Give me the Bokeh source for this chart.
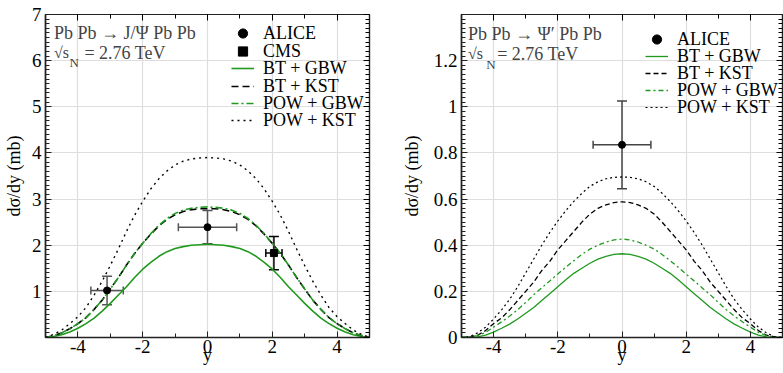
from bokeh.plotting import figure
from bokeh.layouts import row
from bokeh.models import (Range1d, LinearAxis, SingleIntervalTicker, CustomJSTickFormatter,
                          Legend, LegendItem, Label, Whisker, TeeHead, ColumnDataSource)
from bokeh.embed import file_html
from bokeh.resources import INLINE

# ---------------- data ----------------
rap = [-5.0, -4.75, -4.5, -4.25, -4.0, -3.75, -3.5, -3.25, -3.0, -2.75, -2.5, -2.25, -2.0,
       -1.75, -1.5, -1.25, -1.0, -0.75, -0.5, -0.25, 0.0, 0.25, 0.5, 0.75, 1.0, 1.25, 1.5,
       1.75, 2.0, 2.25, 2.5, 2.75, 3.0, 3.25, 3.5, 3.75, 4.0, 4.25, 4.5, 4.75, 5.0]

# J/Psi panel (mb)
jpsi_bt_gbw = [0, 0.02, 0.06, 0.12, 0.2, 0.3, 0.42, 0.57, 0.74, 0.92, 1.1, 1.3, 1.48, 1.63, 1.76,
               1.86, 1.93, 1.97, 2.0, 2.01, 2.02, 2.01, 2.0, 1.97, 1.93, 1.86, 1.76, 1.63, 1.48,
               1.3, 1.1, 0.92, 0.74, 0.57, 0.42, 0.3, 0.2, 0.12, 0.06, 0.02, 0]
jpsi_bt_kst = [0, 0.04, 0.1, 0.19, 0.3, 0.43, 0.61, 0.81, 1.05, 1.3, 1.57, 1.82, 2.04, 2.24, 2.42,
               2.56, 2.66, 2.73, 2.77, 2.79, 2.79, 2.79, 2.77, 2.73, 2.66, 2.56, 2.42, 2.24, 2.04,
               1.82, 1.57, 1.3, 1.05, 0.81, 0.61, 0.43, 0.3, 0.19, 0.1, 0.04, 0]
jpsi_pow_gbw = [0, 0.04, 0.1, 0.19, 0.3, 0.43, 0.61, 0.81, 1.05, 1.3, 1.57, 1.82, 2.04, 2.25, 2.43,
                2.58, 2.69, 2.76, 2.8, 2.82, 2.83, 2.82, 2.8, 2.76, 2.69, 2.58, 2.43, 2.25, 2.04,
                1.82, 1.57, 1.3, 1.05, 0.81, 0.61, 0.43, 0.3, 0.19, 0.1, 0.04, 0]
jpsi_pow_kst = [0, 0.07, 0.16, 0.3, 0.45, 0.65, 0.92, 1.22, 1.56, 1.92, 2.3, 2.65, 2.95, 3.22, 3.44,
                3.61, 3.74, 3.82, 3.87, 3.89, 3.9, 3.89, 3.87, 3.82, 3.74, 3.61, 3.44, 3.22, 2.95,
                2.65, 2.3, 1.92, 1.56, 1.22, 0.92, 0.65, 0.45, 0.3, 0.16, 0.07, 0]

jpsi_alice_y = [-3.1, 0.0]
jpsi_alice_val = [1.02, 2.39]
jpsi_alice_yerr = [0.5, 0.9]
jpsi_alice_err = [0.31, 0.36]
jpsi_cms_y = [2.05]
jpsi_cms_val = [1.83]
jpsi_cms_yerr = [0.25]
jpsi_cms_err = [0.36]

# Psi(2S) panel (mb)
psi_bt_gbw = [0, 0, 0.003, 0.01, 0.023, 0.04, 0.058, 0.08, 0.105, 0.13, 0.16, 0.19, 0.22, 0.25,
              0.278, 0.3, 0.322, 0.34, 0.352, 0.36, 0.363, 0.36, 0.352, 0.34, 0.322, 0.3, 0.278,
              0.25, 0.22, 0.19, 0.16, 0.13, 0.105, 0.08, 0.058, 0.04, 0.023, 0.01, 0.003, 0, 0]
psi_bt_kst = [0, 0.003, 0.01, 0.03, 0.06, 0.085, 0.12, 0.16, 0.2, 0.24, 0.29, 0.33, 0.38, 0.42,
              0.46, 0.5, 0.535, 0.56, 0.575, 0.585, 0.588, 0.585, 0.575, 0.56, 0.535, 0.5, 0.46,
              0.42, 0.38, 0.33, 0.29, 0.24, 0.2, 0.16, 0.12, 0.085, 0.06, 0.03, 0.01, 0.003, 0]
psi_pow_gbw = [0, 0.002, 0.008, 0.022, 0.045, 0.068, 0.093, 0.12, 0.152, 0.185, 0.215, 0.245,
               0.275, 0.305, 0.333, 0.36, 0.383, 0.4, 0.414, 0.423, 0.427, 0.423, 0.414, 0.4,
               0.383, 0.36, 0.333, 0.305, 0.275, 0.245, 0.215, 0.185, 0.152, 0.12, 0.093, 0.068,
               0.045, 0.022, 0.008, 0.002, 0]
psi_pow_kst = [0, 0.004, 0.02, 0.045, 0.08, 0.12, 0.165, 0.22, 0.28, 0.34, 0.40, 0.455, 0.505,
               0.55, 0.59, 0.625, 0.655, 0.675, 0.688, 0.694, 0.696, 0.694, 0.688, 0.675, 0.655,
               0.625, 0.59, 0.55, 0.505, 0.455, 0.40, 0.34, 0.28, 0.22, 0.165, 0.12, 0.08, 0.045,
               0.02, 0.004, 0]

psi_alice_y = [0.0]
psi_alice_val = [0.835]
psi_alice_yerr = [0.9]
psi_alice_err = [0.19]

legend_labels = ["ALICE", "CMS", "BT + GBW", "BT + KST", "POW + GBW", "POW + KST"]

FONT = "Liberation Serif"
GREEN = "#1f9a1f"


def style_fig(p, y_interval, y_minor, yfmt):
    p.outline_line_color = "black"
    p.outline_line_width = 1.2
    p.background_fill_color = "white"
    p.xgrid.grid_line_color = "#dedede"
    p.ygrid.grid_line_color = "#dedede"
    p.xgrid.grid_line_width = 1.2
    p.ygrid.grid_line_width = 1.2
    xt = SingleIntervalTicker(interval=2, num_minor_ticks=2)
    yt = SingleIntervalTicker(interval=y_interval, num_minor_ticks=y_minor)
    p.xaxis.ticker = xt
    p.yaxis.ticker = yt
    p.xgrid.ticker = xt
    p.ygrid.ticker = yt
    p.xaxis.formatter = CustomJSTickFormatter(code="return String(Math.round(tick));")
    p.yaxis.formatter = CustomJSTickFormatter(code=yfmt)
    for ax in (p.xaxis[0], p.yaxis[0]):
        ax.major_tick_in = 6
        ax.major_tick_out = 0
        ax.minor_tick_in = 4
        ax.minor_tick_out = 0
        ax.axis_line_width = 1.6
        ax.axis_line_color = "#222222"
        ax.major_tick_line_color = "#222222"
        ax.minor_tick_line_color = "#222222"
        ax.major_label_text_font = FONT
        ax.major_label_text_font_size = "19px"
        ax.major_label_text_color = "black"
        ax.axis_label_text_font = FONT
        ax.axis_label_text_font_size = "18px"
        ax.axis_label_text_font_style = "normal"
        ax.axis_label_text_color = "black"
    p.xaxis.major_label_standoff = 2
    p.xaxis.axis_label_standoff = -11
    p.yaxis.major_label_standoff = 4
    p.xaxis.axis_label = "y"
    p.yaxis.axis_label = "dσ/dy (mb)"
    # mirrored axes
    top = LinearAxis(ticker=xt, major_label_text_font_size="0px", major_label_standoff=0,
                     major_tick_in=6, major_tick_out=0, minor_tick_in=4, minor_tick_out=0,
                     axis_line_color="#222222", axis_line_width=1.2)
    right = LinearAxis(ticker=yt, major_label_text_font_size="0px", major_label_standoff=0,
                       major_tick_in=6, major_tick_out=0, minor_tick_in=4, minor_tick_out=0,
                       axis_line_color="#222222", axis_line_width=1.2)
    p.add_layout(top, "above")
    p.add_layout(right, "right")


def add_errors(p, xs, ys, xerr, yerr, color):
    src = ColumnDataSource(dict(
        x=xs, y=ys,
        xl=[a - b for a, b in zip(xs, xerr)], xu=[a + b for a, b in zip(xs, xerr)],
        yl=[a - b for a, b in zip(ys, yerr)], yu=[a + b for a, b in zip(ys, yerr)]))
    p.add_layout(Whisker(source=src, base="x", lower="yl", upper="yu", dimension="height",
                         line_color=color, line_width=1.5,
                         lower_head=TeeHead(size=10, line_color=color, line_width=1.5),
                         upper_head=TeeHead(size=10, line_color=color, line_width=1.5)))
    p.add_layout(Whisker(source=src, base="y", lower="xl", upper="xu", dimension="width",
                         line_color=color, line_width=1.5,
                         lower_head=TeeHead(size=8, line_color=color, line_width=1.5),
                         upper_head=TeeHead(size=8, line_color=color, line_width=1.5)))
    return src


def add_legend_rows(p, entries, x_px, y_px_list):
    # one single-item legend per row so that rows can be spaced tightly
    for (label, rend), ypx in zip(entries, y_px_list):
        leg = Legend(items=[LegendItem(label=label, renderers=[rend])], location=(x_px, ypx))
        leg.background_fill_alpha = 0
        leg.border_line_alpha = 0
        leg.padding = 0
        leg.margin = 0
        leg.spacing = 0
        leg.glyph_width = 23
        leg.glyph_height = 24
        leg.label_height = 24
        leg.label_standoff = 9
        leg.label_text_font = FONT
        leg.label_text_font_size = "18px"
        leg.label_text_color = "black"
        p.add_layout(leg, "center")


# ---------------- left panel ----------------
p1 = figure(width=390, height=373, x_range=Range1d(-5, 5), y_range=Range1d(0, 7),
            output_backend="svg", toolbar_location=None,
            min_border_left=45, min_border_right=21, min_border_top=14, min_border_bottom=36)
style_fig(p1, 1, 10, "return tick < 0.5 ? '' : String(Math.round(tick));")

r_bg = p1.line(rap, jpsi_bt_gbw, line_color=GREEN, line_width=1.6)
r_bk = p1.line(rap, jpsi_bt_kst, line_color="black", line_width=1.6, line_dash="7 4")
r_pg = p1.line(rap, jpsi_pow_gbw, line_color=GREEN, line_width=1.6, line_dash="7 3 2 3")
r_pk = p1.line(rap, jpsi_pow_kst, line_color="black", line_width=1.4, line_dash="2 4")

add_errors(p1, jpsi_alice_y, jpsi_alice_val, jpsi_alice_yerr, jpsi_alice_err, "#555555")
add_errors(p1, jpsi_cms_y, jpsi_cms_val, jpsi_cms_yerr, jpsi_cms_err, "black")
r_al = p1.scatter(jpsi_alice_y, jpsi_alice_val, marker="circle", size=7, color="black")
r_cm = p1.scatter(jpsi_cms_y, jpsi_cms_val, marker="square", size=7, color="black")

add_legend_rows(p1, list(zip(legend_labels, [r_al, r_cm, r_bg, r_bk, r_pg, r_pk])),
                186, [292, 274, 257, 239, 222, 205])

p1.add_layout(Label(x=-4.74, y=6.6, text="Pb Pb  → J/Ψ Pb Pb", text_font=FONT,
                    text_font_size="18px", text_baseline="middle"))
p1.add_layout(Label(x=-4.74, y=6.17, text="√s", text_font=FONT,
                    text_font_size="16px", text_baseline="middle"))
p1.add_layout(Label(x=-4.26, y=5.95, text="N", text_font=FONT,
                    text_font_size="13px", text_baseline="middle"))
p1.add_layout(Label(x=-3.8, y=6.17, text="= 2.76 TeV", text_font=FONT,
                    text_font_size="18px", text_baseline="middle"))

# ---------------- right panel ----------------
p2 = figure(width=393, height=373, x_range=Range1d(-5, 5), y_range=Range1d(0, 1.4),
            output_backend="svg", toolbar_location=None,
            min_border_left=71, min_border_right=1, min_border_top=14, min_border_bottom=36)
style_fig(p2, 0.2, 10, "return tick > 1.3 ? '' : String(Math.round(tick*10)/10);")
p2.yaxis[0].axis_label_standoff = 9

q_bg = p2.line(rap, psi_bt_gbw, line_color=GREEN, line_width=1.3)
q_bk = p2.line(rap, psi_bt_kst, line_color="black", line_width=1.3, line_dash="5 3")
q_pg = p2.line(rap, psi_pow_gbw, line_color=GREEN, line_width=1.3, line_dash="5 3 2 3")
q_pk = p2.line(rap, psi_pow_kst, line_color="black", line_width=1.2, line_dash="2 3")

add_errors(p2, psi_alice_y, psi_alice_val, psi_alice_yerr, psi_alice_err, "#444444")
q_al = p2.scatter(psi_alice_y, psi_alice_val, marker="circle", size=7, color="black")

add_legend_rows(p2, list(zip([legend_labels[i] for i in (0, 2, 3, 4, 5)],
                             [q_al, q_bg, q_bk, q_pg, q_pk])),
                184, [286, 269, 252, 235, 218])

p2.add_layout(Label(x=-4.8, y=1.317, text="Pb Pb  → Ψ′ Pb Pb", text_font=FONT,
                    text_font_size="18px", text_baseline="middle"))
p2.add_layout(Label(x=-4.8, y=1.23, text="√s", text_font=FONT,
                    text_font_size="16px", text_baseline="middle"))
p2.add_layout(Label(x=-4.23, y=1.185, text="N", text_font=FONT,
                    text_font_size="13px", text_baseline="middle"))
p2.add_layout(Label(x=-3.89, y=1.23, text="= 2.76 TeV", text_font=FONT,
                    text_font_size="18px", text_baseline="middle"))

layout = row(p1, p2)
open("out.html", "w").write(file_html(layout, INLINE))
